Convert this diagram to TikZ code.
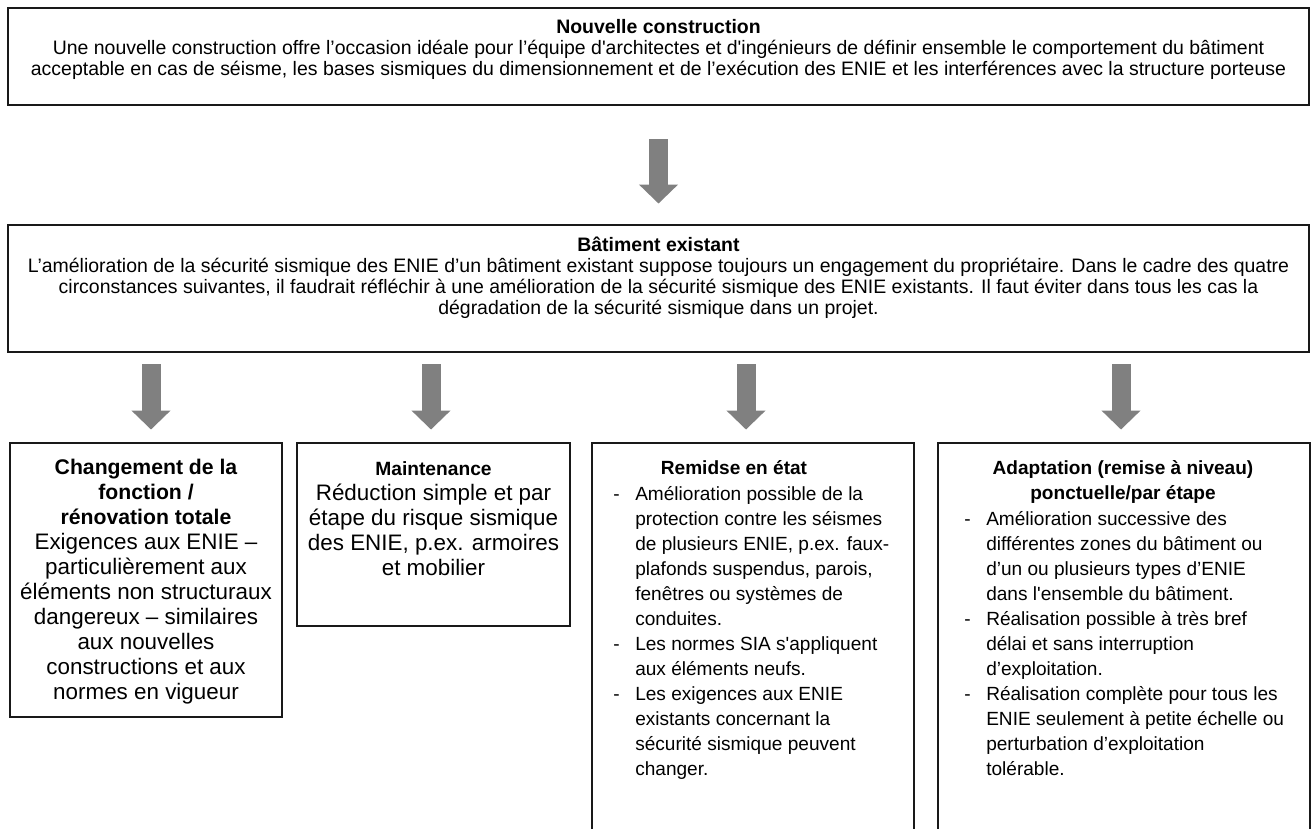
\documentclass[tikz,border=0pt]{standalone}
\usepackage{fontspec}
\setmainfont{Liberation Sans}[Ligatures=TeXOff]
\usetikzlibrary{arrows.meta,fit,calc}
\definecolor{arrowgray}{RGB}{128,128,128}
\definecolor{boxline}{RGB}{25,25,25}
\newcommand{\itemdash}{\makebox[16.5pt][l]{-}}
\newcommand{\itemcont}{\hspace*{16.5pt}}
\newcommand{\ttl}[1]{{\fontsize{14.4}{18.75}\selectfont\bfseries #1}}
\newcommand{\ttlb}[1]{{\fontsize{15.9}{18.75}\selectfont\bfseries #1}}
\begin{document}
\begin{tikzpicture}[x=0.75pt,y=-0.75pt,
  box/.style={draw=boxline, line width=2.2pt, inner sep=0pt},
  toptext/.style={font=\fontsize{14.6}{15.75}\selectfont, align=center, inner sep=0pt},
  bigtext/.style={font=\fontsize{16.8}{18.75}\selectfont, inner sep=0pt},
  bottext/.style={font=\fontsize{14.3}{18.75}\selectfont, inner sep=0pt},
  bigarrow/.style={draw=arrowgray, line width=14.25pt, -{Triangle[width=28.5pt,length=14.25pt]}}]
\path[fill=white,use as bounding box] (0,0) rectangle (1316,828);
\clip (0,0) rectangle (1316,828);

% boxes
\node[box, fit={(8,8) (1309,105)}] (top) {};
\node[box, fit={(8,225) (1309,352)}] (mid) {};
\node[box, fit={(10,443) (282,717)}] (b1) {};
\node[box, fit={(297,443) (570,626)}] (b2) {};
\node[box, fit={(592,443) (914,860)}] (b3) {};
\node[box, fit={(938,443) (1310,860)}] (b4) {};

% texts
\node[toptext] (ttop) at (658.5,49) {\textbf{Nouvelle construction}\\
Une nouvelle construction offre l’occasion idéale pour l’équipe d'architectes et d'ingénieurs de définir ensemble le comportement du bâtiment\\
acceptable en cas de séisme, les bases sismiques du dimensionnement et de l’exécution des ENIE et les interférences avec la structure porteuse};

\node[toptext] (tmid) at (658.5,277.5) {\textbf{Bâtiment existant}\\
L’amélioration de la sécurité sismique des ENIE d’un bâtiment existant suppose toujours un engagement du propriétaire. Dans le cadre des quatre\\
circonstances suivantes, il faudrait réfléchir à une amélioration de la sécurité sismique des ENIE existants. Il faut éviter dans tous les cas la\\
dégradation de la sécurité sismique dans un projet.};

\node[bigtext, align=center] (tb1) at (146,582) {\ttlb{Changement de la}\\
\ttlb{fonction /}\\
\ttlb{rénovation totale}\\
Exigences aux ENIE –\\
particulièrement aux\\
éléments non structuraux\\
dangereux – similaires\\
aux nouvelles\\
constructions et aux\\
normes en vigueur};

\node[bigtext, align=center] (tb2) at (433.5,519) {\ttl{Maintenance}\\
Réduction simple et par\\
étape du risque sismique\\
des ENIE, p.ex. armoires\\
et mobilier};

\node[bottext, font=\fontsize{14.3}{18.75}\selectfont\bfseries] (tb3h) at (734,468) {Remidse en état};
\node[bottext, align=left, anchor=west] (tb3) at (613,632.5) {\itemdash Amélioration possible de la\\
\itemcont protection contre les séismes\\
\itemcont de plusieurs ENIE, p.ex. faux-\\
\itemcont plafonds suspendus, parois,\\
\itemcont fenêtres ou systèmes de\\
\itemcont conduites.\\
\itemdash Les normes SIA s'appliquent\\
\itemcont aux éléments neufs.\\
\itemdash Les exigences aux ENIE\\
\itemcont existants concernant la\\
\itemcont sécurité sismique peuvent\\
\itemcont changer.};

\node[bottext, align=center, font=\fontsize{14.3}{18.75}\selectfont\bfseries] (tb4h) at (1123,482) {Adaptation (remise à niveau)\\ponctuelle/par étape};
\node[bottext, align=left, anchor=west] (tb4) at (964,644) {\itemdash Amélioration successive des\\
\itemcont différentes zones du bâtiment ou\\
\itemcont d’un ou plusieurs types d’ENIE\\
\itemcont dans l'ensemble du bâtiment.\\
\itemdash Réalisation possible à très bref\\
\itemcont délai et sans interruption\\
\itemcont d’exploitation.\\
\itemdash Réalisation complète pour tous les\\
\itemcont ENIE seulement à petite échelle ou\\
\itemcont perturbation d’exploitation\\
\itemcont tolérable.};

% arrows
\draw[bigarrow, shorten <=24.75pt, shorten >=15pt] (top.south) -- (mid.north);
\draw[bigarrow, shorten <=8.25pt, shorten >=9pt] ($(b1.north |- mid.south)+(5,0)$) -- ($(b1.north)+(5,0)$);
\draw[bigarrow, shorten <=8.25pt, shorten >=9pt] ($(b2.north |- mid.south)+(-2.5,0)$) -- ($(b2.north)+(-2.5,0)$);
\draw[bigarrow, shorten <=8.25pt, shorten >=9pt] ($(b3.north |- mid.south)+(-7,0)$) -- ($(b3.north)+(-7,0)$);
\draw[bigarrow, shorten <=8.25pt, shorten >=9pt] ($(b4.north |- mid.south)+(-3,0)$) -- ($(b4.north)+(-3,0)$);
\end{tikzpicture}
\end{document}
